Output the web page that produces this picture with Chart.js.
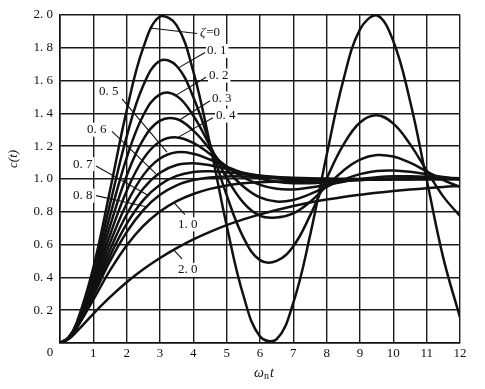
<!DOCTYPE html>
<html>
<head>
<meta charset="utf-8">
<script src="https://cdn.jsdelivr.net/npm/chart.js@4.4.1/dist/chart.umd.min.js"></script>
<style>
  html, body { margin: 0; padding: 0; background: #fff; }
</style>
</head>
<body>
<canvas id="chart" width="485" height="389"></canvas>
<script>
// time axis (omega_n * t) and the step response c(t) for each damping ratio
var tValues = [0, 0.25, 0.5, 1, 1.5, 2, 2.5, 3, 3.5, 4, 4.5, 5, 5.5, 6, 6.5, 7, 7.5, 8, 8.5, 9, 9.5, 10, 10.5, 11, 11.5, 12];

var zeta0   = [0, 0.031, 0.122, 0.460, 0.929, 1.416, 1.801, 1.990, 1.936, 1.654, 1.211, 0.716, 0.291, 0.040, 0.023, 0.246, 0.653, 1.146, 1.602, 1.911, 1.997, 1.839, 1.476, 0.996, 0.517, 0.156];
var zeta01  = [0, 0.031, 0.118, 0.431, 0.846, 1.258, 1.570, 1.720, 1.688, 1.498, 1.211, 0.901, 0.644, 0.505, 0.500, 0.590, 0.776, 1.003, 1.207, 1.344, 1.388, 1.337, 1.212, 1.050, 0.892, 0.774];
var zeta02  = [0, 0.030, 0.115, 0.405, 0.775, 1.128, 1.388, 1.515, 1.505, 1.385, 1.201, 1.006, 0.855, 0.775, 0.765, 0.790, 0.860, 0.956, 1.050, 1.117, 1.145, 1.136, 1.099, 1.046, 0.993, 0.951];
var zeta03  = [0, 0.030, 0.111, 0.381, 0.713, 1.019, 1.241, 1.355, 1.365, 1.294, 1.180, 1.057, 0.954, 0.887, 0.862, 0.872, 0.907, 0.952, 0.996, 1.029, 1.048, 1.051, 1.043, 1.028, 1.011, 0.996];
var zeta04  = [0, 0.029, 0.108, 0.360, 0.658, 0.927, 1.122, 1.228, 1.253, 1.219, 1.152, 1.076, 1.010, 0.964, 0.940, 0.936, 0.947, 0.964, 0.983, 1.000, 1.010, 1.016, 1.016, 1.013, 1.008, 1.004];
var zeta05  = [0, 0.029, 0.104, 0.340, 0.610, 0.849, 1.023, 1.124, 1.162, 1.153, 1.118, 1.075, 1.034, 1.002, 0.983, 0.974, 0.974, 0.979, 0.986, 0.993, 0.999, 1.002, 1.004, 1.004, 1.004, 1.003];
var zeta06  = [0, 0.028, 0.101, 0.322, 0.568, 0.783, 0.941, 1.038, 1.085, 1.095, 1.083, 1.061, 1.038, 1.018, 1.004, 0.995, 0.992, 0.991, 0.992, 0.995, 0.997, 0.999, 1.000, 1.000, 1.001, 1.001];
var zeta07  = [0, 0.028, 0.098, 0.306, 0.531, 0.726, 0.871, 0.965, 1.018, 1.042, 1.046, 1.040, 1.030, 1.020, 1.011, 1.005, 1.001, 0.999, 0.998, 0.998, 0.998, 0.999, 0.999, 1.000, 1.000, 1.000];
var zeta08  = [0, 0.027, 0.096, 0.291, 0.498, 0.676, 0.810, 0.903, 0.961, 0.993, 1.009, 1.015, 1.015, 1.012, 1.009, 1.006, 1.004, 1.002, 1.001, 1.000, 1.000, 1.000, 1.000, 1.000, 1.000, 1.000];
var zeta10  = [0, 0.026, 0.090, 0.264, 0.442, 0.594, 0.713, 0.801, 0.864, 0.908, 0.939, 0.960, 0.973, 0.980, 0.984, 0.987, 0.989, 0.991, 0.993, 0.994, 0.995, 0.996, 0.997, 0.998, 0.998, 0.999];
var zeta20  = [0, 0.023, 0.070, 0.178, 0.279, 0.370, 0.449, 0.518, 0.578, 0.631, 0.677, 0.718, 0.753, 0.784, 0.811, 0.835, 0.856, 0.874, 0.890, 0.903, 0.916, 0.926, 0.935, 0.943, 0.951, 0.957];

var seriesNames = ['ζ=0', '0.1', '0.2', '0.3', '0.4', '0.5', '0.6', '0.7', '0.8', '1.0', '2.0'];
var seriesData  = [zeta0, zeta01, zeta02, zeta03, zeta04, zeta05, zeta06, zeta07, zeta08, zeta10, zeta20];

var xTicks = [0, 1, 2, 3, 4, 5, 6, 7, 8, 9, 10, 11, 12];
var yTicks = [0, 0.2, 0.4, 0.6, 0.8, 1.0, 1.2, 1.4, 1.6, 1.8, 2.0];

// label placement (in axis units): text left/middle, leader from curve to label
var callouts = [
  { name: 'ζ=0', tx: 4.20, ty: 1.890, from: [2.70, 1.920], to: [4.11, 1.886] },
  { name: '0.1', tx: 4.41, ty: 1.780, from: [3.54, 1.675], to: [4.35, 1.770] },
  { name: '0.2', tx: 4.47, ty: 1.630, from: [3.45, 1.506], to: [4.38, 1.620] },
  { name: '0.3', tx: 4.56, ty: 1.490, from: [3.60, 1.361], to: [4.50, 1.476] },
  { name: '0.4', tx: 4.68, ty: 1.386, from: [3.54, 1.253], to: [4.59, 1.373] },
  { name: '0.5', tx: 1.17, ty: 1.530, from: [3.21, 1.163], to: [1.86, 1.488] },
  { name: '0.6', tx: 0.81, ty: 1.300, from: [2.88, 1.030], to: [1.56, 1.289] },
  { name: '0.7', tx: 0.39, ty: 1.090, from: [2.64, 0.900], to: [1.08, 1.078] },
  { name: '0.8', tx: 0.39, ty: 0.898, from: [2.58, 0.830], to: [1.08, 0.898] },
  { name: '1.0', tx: 3.54, ty: 0.723, from: [3.42, 0.855], to: [3.75, 0.783] },
  { name: '2.0', tx: 3.54, ty: 0.446, from: [3.42, 0.566], to: [3.66, 0.512] }
];

var SERIF = '"Liberation Serif", "DejaVu Serif", serif';
function fmt(s) { return String(s).replace('.', '. '); }

var datasets = seriesData.map(function (vals, i) {
  return {
    label: seriesNames[i],
    data: vals.map(function (v, j) { return { x: tValues[j], y: v }; }),
    borderColor: '#111',
    borderWidth: 2.5,
    pointRadius: 0,
    fill: false,
    tension: 0.4
  };
});

var decorations = {
  id: 'decorations',
  afterDatasetsDraw: function (chart) {
    var c = chart.ctx, xs = chart.scales.x, ys = chart.scales.y;
    function px(v) { return xs.getPixelForValue(v); }
    function py(v) { return ys.getPixelForValue(v); }
    c.save();
    c.font = '13px ' + SERIF;
    c.textBaseline = 'middle';
    callouts.forEach(function (a) {
      c.strokeStyle = '#111';
      c.lineWidth = 1.1;
      c.beginPath();
      c.moveTo(px(a.from[0]), py(a.from[1]));
      c.lineTo(px(a.to[0]), py(a.to[1]));
      c.stroke();
      var x = px(a.tx), y = py(a.ty);
      var txt = a.name === 'ζ=0' ? a.name : fmt(a.name);
      var w = c.measureText(txt).width;
      c.fillStyle = '#fff';
      c.fillRect(x - 1, y - 7, w + 3, 14);
      c.fillStyle = '#111';
      c.textAlign = 'left';
      if (a.name === 'ζ=0') {
        c.font = 'italic 13px ' + SERIF;
        c.fillText('ζ', x, y);
        var zw = c.measureText('ζ').width;
        c.font = '13px ' + SERIF;
        c.fillText('=0', x + zw + 1, y);
      } else {
        c.fillText(txt, x, y);
      }
    });
    // origin label
    c.textAlign = 'center';
    c.fillText('0', xs.left - 10, ys.bottom + 10);
    // y title c(t)
    c.save();
    c.translate(14, (ys.top + ys.bottom) / 2 - 20);
    c.rotate(-Math.PI / 2);
    c.font = 'italic 13px ' + SERIF;
    c.fillText('c(t)', 0, 0);
    c.restore();
    // x title omega_n t
    var tx = (xs.left + xs.right) / 2 - 6, ty = 373;
    c.textAlign = 'left';
    c.font = 'italic 14px ' + SERIF;
    c.fillText('ω', tx, ty);
    var ow = c.measureText('ω').width;
    c.font = '10px ' + SERIF;
    c.fillText('n', tx + ow, ty + 3);
    var nw = c.measureText('n').width;
    c.font = 'italic 14px ' + SERIF;
    c.fillText('t', tx + ow + nw + 1, ty);
    c.restore();
  }
};

new Chart(document.getElementById('chart'), {
  type: 'line',
  data: { datasets: datasets },
  options: {
    responsive: false,
    animation: false,
    devicePixelRatio: 1,
    layout: { padding: { left: 0, top: 11, right: 25, bottom: 0 } },
    plugins: { legend: { display: false }, tooltip: { enabled: false } },
    scales: {
      x: {
        type: 'linear', min: 0, max: 12,
        afterBuildTicks: function (s) { s.ticks = xTicks.map(function (v) { return { value: v }; }); },
        afterFit: function (s) { s.height = 46; },
        grid: { color: '#1a1a1a', lineWidth: 1.4, drawTicks: false },
        border: { color: '#111', width: 1.6 },
        ticks: {
          padding: 3, color: '#111', font: { family: SERIF, size: 13 },
          autoSkip: false, maxRotation: 0,
          callback: function (v) { return v === 0 ? '' : String(v); }
        }
      },
      y: {
        type: 'linear', min: 0, max: 2,
        afterBuildTicks: function (s) { s.ticks = yTicks.map(function (v) { return { value: v }; }); },
        afterFit: function (s) { s.width = 60; },
        grid: { color: '#1a1a1a', lineWidth: 1.4, drawTicks: false },
        border: { color: '#111', width: 1.6 },
        ticks: {
          padding: 7, color: '#111', font: { family: SERIF, size: 13 },
          autoSkip: false,
          callback: function (v) { return v === 0 ? '' : fmt(v.toFixed(1)); }
        }
      }
    }
  },
  plugins: [decorations]
});
</script>
</body>
</html>
